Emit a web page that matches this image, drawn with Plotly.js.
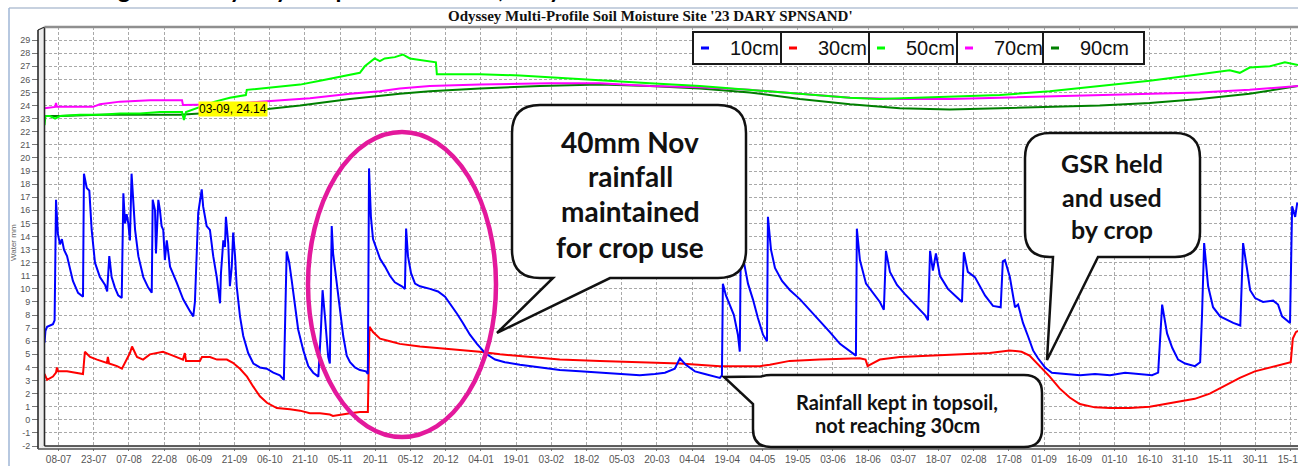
<!DOCTYPE html>
<html>
<head>
<meta charset="utf-8">
<script src="https://cdn.plot.ly/plotly-3.0.1.min.js"></script>
<style>
  html, body { margin: 0; padding: 0; background: #ffffff; }
  #chart { width: 1298px; height: 466px; }
</style>
</head>
<body>
<div id="chart"></div>
<script>
// Odyssey multi-profile soil moisture probe, site '23 DARY SPNSAND'.
// Each series: [day offset from 08-07-2022, soil water (mm)]

const probe10cm = [
  [-6.0,5.9],[-5.6,6.8],[-4.9,7.1],[-3.7,7.2],[-2.4,7.3],[-1.7,7.6],[-1.3,12],[-1.1,16.8],[-0.3,14.2],[0.6,13.4],
  [1.4,13.8],[2.3,13.0],[3.6,12.5],[4.9,11.5],[6.1,10.6],[8.3,9.7],[10.4,9.4],[10.8,18.8],[12.0,17.7],[13.1,17.5],
  [14.1,14.5],[15.5,12.0],[17.6,10.9],[19.8,10.3],[20.7,9.8],[21.6,12.5],[22.6,10.9],[24.0,10.1],[25.4,9.5],[26.9,9.3],
  [27.6,17.3],[28.3,15.0],[29.0,15.7],[29.7,15.0],[30.4,13.7],[31.1,18.8],[31.8,16.4],[32.6,14.5],[34.0,12.5],[36.1,10.9],
  [38.2,10.1],[39.7,9.7],[40.1,16.8],[41.1,16.0],[41.5,12.7],[42.5,16.8],[43.2,16.0],[43.9,14.8],[44.6,14.5],[45.3,12.2],
  [46.1,13.7],[47.5,11.7],[50.3,10.5],[53.1,9.2],[56.0,8.3],[57.4,7.9],[58.1,9.0],[58.8,12.0],[59.5,15.8],[61.0,17.6],
  [61.6,16.3],[63.1,14.8],[64.5,14.5],[65.9,12.5],[67.4,10.9],[68.8,8.9],[69.2,11.2],[70.2,13.7],[70.9,13.2],[71.3,15.5],
  [72.3,13.5],[73.0,10.2],[73.8,11.7],[74.4,14.3],[75.2,12.5],[75.9,10.2],[77.3,7.9],[78.7,6.4],[80.8,5.1],[83.0,4.3],
  [85.8,4.0],[88.7,3.9],[91.5,3.6],[94.3,3.4],[96.0,3.05],[97.2,12.85],[98.3,12.0],[99.3,10.7],[100.7,8.6],[102.1,6.9],
  [104.3,5.3],[106.4,4.1],[108.5,3.6],[110.7,3.3],[111.8,6.9],[112.5,9.9],[113.5,7.9],[114.2,6.4],[114.9,4.8],[115.6,4.3],
  [116.4,14.8],[117.0,12.7],[118.5,10.5],[119.9,8.9],[121.3,6.4],[122.8,4.9],[124.2,4.4],[126.3,4.0],[128.4,3.8],[131.0,3.7],
  [131.8,3.5],[132.3,19.2],[133.1,15.5],[134.0,13.8],[135.3,13.2],[137.0,12.3],[139.1,11.7],[141.2,11.0],[143.3,10.5],[146.3,10.2],
  [147.6,10.0],[148.1,14.6],[148.9,12.5],[150.2,11.2],[151.9,10.4],[154.0,10.2],[158.3,10.0],[161.7,9.8],[164.7,9.4],[166.8,8.9],
  [169.8,8.1],[172.3,7.4],[175.3,6.5],[178.3,5.8],[181.7,5.1],[186.0,4.6],[190.2,4.4],[196.6,4.2],[205.1,4.0],[213.6,3.8],
  [222.1,3.7],[230.7,3.6],[239.2,3.5],[247.7,3.4],[254.1,3.5],[258.4,3.6],[262.6,3.9],[264.8,4.7],[267.3,4.2],[271.2,3.7],
  [275.4,3.5],[279.7,3.3],[281.8,3.2],[282.7,3.4],[283.1,10.4],[284.4,9.5],[286.1,8.8],[287.8,8.0],[289.5,6.5],[290.3,5.2],
  [290.8,14.5],[292.1,12.0],[293.8,10.4],[295.9,9.2],[298.0,7.8],[300.2,6.5],[301.9,6.0],[302.3,15.5],[303.6,13.0],[305.3,11.6],
  [308.3,10.6],[311.7,9.9],[316.0,9.2],[320.2,8.4],[324.5,7.5],[328.7,6.7],[333.0,5.8],[337.3,5.2],[339.8,4.9],[340.2,14.6],
  [341.5,12.2],[344.1,10.4],[347.5,9.6],[350.0,9.0],[351.7,8.4],[352.6,12.9],[354.3,11.3],[357.3,10.3],[360.7,9.6],[365.0,8.8],
  [369.2,8.0],[370.5,7.6],[371.4,12.9],[372.6,11.4],[373.9,12.7],[375.6,11.0],[379.0,10.0],[382.0,9.5],[385.0,9.0],[385.8,12.8],
  [387.5,11.3],[390.5,10.9],[394.8,9.5],[398.2,8.7],[401.5,8.6],[402.4,12.1],[403.3,12.2],[405.4,10.9],[407.6,8.6],[408.9,8.8],
  [411.0,7.4],[413.1,6.4],[415.3,5.3],[417.4,4.7],[420.4,4.0],[423.3,3.6],[428.9,3.5],[435.3,3.4],[441.7,3.5],[448.1,3.4],
  [454.5,3.6],[460.9,3.5],[466.0,3.4],[468.6,3.6],[469.4,6.5],[470.3,8.8],[472.4,6.6],[474.6,5.5],[477.1,4.6],[480.1,4.3],
  [484.3,4.1],[486.5,4.4],[487.3,8.0],[488.2,13.5],[489.9,10.2],[492.0,8.6],[495.0,7.9],[498.0,7.6],[500.6,7.4],[503.6,7.2],
  [504.8,13.5],[506.5,11.5],[507.8,9.9],[509.9,9.3],[513.3,9.0],[517.6,9.1],[519.7,8.8],[521.4,7.9],[523.6,7.6],[524.8,7.4],
  [525.7,16.3],[527.0,15.5],[527.9,16.6]
];

const probe30cm = [
  [-6.0,3.5],[-4.9,3.05],[-2.4,3.3],[-1.1,3.6],[-0.7,4.0],[-0.3,3.7],[3.6,3.7],[10.4,3.5],[11.2,5.2],[13.4,4.8],
  [16.4,4.6],[20.6,4.35],[21.0,4.8],[21.5,4.3],[24.9,4.1],[27.0,3.9],[30.4,5.1],[31.3,5.6],[33.4,4.8],[36.0,4.6],
  [38.9,5.0],[41.9,5.1],[44.5,5.2],[48.7,4.9],[53.0,4.6],[53.8,5.1],[54.3,4.5],[60.2,4.5],[61.1,4.8],[64.5,4.8],
  [67.5,4.6],[71.7,4.6],[74.3,4.35],[77.3,3.9],[80.3,3.3],[82.9,2.55],[85.8,1.8],[88.8,1.3],[93.0,0.9],[98.6,0.8],
  [102.9,0.7],[107.1,0.5],[111.4,0.5],[115.6,0.4],[116.9,0.3],[124.2,0.5],[128.4,0.6],[131.8,0.6],[132.5,7.1],[134.0,6.7],
  [137.0,6.2],[141.2,6.0],[145.4,5.8],[154.0,5.6],[166.8,5.4],[179.5,5.2],[188.1,5.0],[200.8,4.8],[213.6,4.6],[230.7,4.5],
  [247.7,4.4],[264.8,4.3],[281.8,4.1],[298.9,4.1],[303.1,4.2],[311.6,4.5],[324.4,4.6],[341.4,4.7],[343.9,4.6],[344.8,4.1],
  [345.7,4.2],[350.0,4.6],[358.5,4.8],[371.3,4.9],[384.1,5.0],[396.8,5.1],[405.3,5.3],[410.4,5.2],[413.8,4.9],[418.1,4.1],
  [422.4,3.3],[426.6,2.4],[430.9,1.7],[435.2,1.2],[441.6,0.95],[448.0,0.9],[456.5,0.9],[465.0,1.0],[471.4,1.2],[477.8,1.4],
  [484.2,1.6],[490.6,2.0],[497.0,2.6],[503.4,3.2],[509.8,3.7],[516.2,4.0],[522.6,4.3],[525.1,4.4],[526.0,6.2],[527.3,6.7],
  [528.2,6.8]
];

const probe50cm = [
  [-6.0,22.5],[-5.6,23.2],[-3.7,23.2],[-1.5,23.0],[0.6,23.2],[9.1,23.3],[17.6,23.3],[26.2,23.4],[34.7,23.4],[43.2,23.5],
  [52.6,23.5],[53.4,22.9],[54.3,23.5],[60.2,23.9],[66.6,24.3],[73.0,24.6],[79.8,24.8],[80.2,25.2],[85.8,25.3],[94.3,25.5],
  [102.9,25.6],[111.4,25.9],[119.9,26.2],[126.3,26.4],[128.4,26.5],[130.5,27.0],[132.6,27.3],[134.7,27.6],[136.9,27.4],[139.0,27.6],
  [143.3,27.7],[146.7,27.9],[149.7,27.6],[154.0,27.5],[158.2,27.4],[160.8,27.3],[161.2,26.4],[166.8,26.4],[179.5,26.4],[196.6,26.3],
  [213.6,26.1],[230.7,25.9],[252.0,25.7],[273.3,25.5],[294.6,25.2],[315.9,24.9],[337.3,24.6],[349.8,24.5],[367.0,24.6],[384.1,24.7],
  [401.1,24.8],[422.4,25.1],[443.7,25.5],[465.0,25.9],[486.3,26.4],[499.1,26.7],[503.4,26.5],[507.6,26.9],[516.2,27.0],[522.6,27.3],
  [528.2,27.1]
];

const probe70cm = [
  [-6.0,23.8],[-1.5,23.9],[-1.1,24.2],[-0.7,23.9],[9.1,23.9],[14.7,23.9],[17.6,24.1],[26.2,24.3],[39.0,24.4],[52.6,24.4],
  [53.0,24.05],[73.0,24.1],[85.8,24.3],[107.1,24.55],[124.2,24.9],[136.9,25.1],[145.4,25.3],[158.2,25.5],[179.5,25.6],[209.4,25.7],
  [230.7,25.7],[252.0,25.5],[273.3,25.4],[294.6,25.2],[315.9,24.9],[337.3,24.6],[358.5,24.5],[379.8,24.5],[401.1,24.6],[422.4,24.7],
  [443.7,24.8],[465.0,24.9],[486.3,25.0],[507.6,25.2],[520.4,25.4],[528.2,25.5]
];

const probe90cm = [
  [-6.0,23.2],[0.6,23.2],[17.6,23.3],[39.0,23.3],[51.7,23.3],[60.2,23.4],[81.6,23.6],[102.9,24.0],[124.2,24.5],[145.4,24.9],
  [158.2,25.1],[179.5,25.3],[205.1,25.5],[230.7,25.6],[252.0,25.5],[273.3,25.3],[294.6,25.0],[315.9,24.5],[337.3,24.1],[358.5,23.8],
  [379.8,23.7],[401.1,23.8],[422.4,23.9],[443.7,24.0],[465.0,24.2],[486.3,24.5],[507.6,24.9],[520.4,25.3],[528.2,25.5]
];

const seriesNames  = ['10cm', '30cm', '50cm', '70cm', '90cm'];
const seriesColors = ['#0000ff', '#ff0000', '#00ff00', '#ff00ff', '#008000'];
const seriesData   = [probe10cm, probe30cm, probe50cm, probe70cm, probe90cm];

const yTickValues = [-2,-1,0,1,2,3,4,5,6,7,8,9,10,11,12,13,14,15,16,17,18,19,20,21,22,23,24,25,26,27,28,29];

// ---- helpers -------------------------------------------------------------
const START_MS = Date.UTC(2022, 6, 8);
const DAY_MS = 86400000;
const dayToDate = d => new Date(START_MS + d * DAY_MS).toISOString().slice(0, 19).replace('T', ' ');

// plot-area frame in page pixels, used to place decorations in paper units
const FRAME = { l: 44, r: 1298, t: 27, b: 446 };
const px = x => (x - FRAME.l) / (FRAME.r - FRAME.l);
const py = y => (FRAME.b - y) / (FRAME.b - FRAME.t);

function pathOf(cmds) {
  return cmds.map(c => {
    if (c[0] === 'Z') return 'Z';
    const pts = [];
    for (let i = 1; i < c.length; i += 2) pts.push(px(c[i]).toFixed(5) + ',' + py(c[i + 1]).toFixed(5));
    return c[0] + ' ' + pts.join(' ');
  }).join(' ');
}

function bubbleTailDown(L, T, R, B, r, tailA, tailB, tipX, tipY) {
  return pathOf([
    ['M', L + r, T], ['L', R - r, T], ['Q', R, T, R, T + r], ['L', R, B - r], ['Q', R, B, R - r, B],
    ['L', tailB, B], ['L', tipX, tipY], ['L', tailA, B],
    ['L', L + r, B], ['Q', L, B, L, B - r], ['L', L, T + r], ['Q', L, T, L + r, T], ['Z']
  ]);
}

function bubbleTailLeft(L, T, R, B, r, tailLow, tipX, tipY) {
  return pathOf([
    ['M', L + r, T], ['L', R - r, T], ['Q', R, T, R, T + r], ['L', R, B - r], ['Q', R, B, R - r, B],
    ['L', L + r, B], ['Q', L, B, L, B - r], ['L', L, tailLow], ['L', tipX, tipY],
    ['L', L + r * 0.45, T + 1.5], ['Q', L + r * 0.7, T, L + r, T], ['Z']
  ]);
}

const lineShape = (x0, y0, x1, y1, color, width) => ({
  type: 'line', xref: 'paper', yref: 'paper', layer: 'above',
  x0: px(x0), y0: py(y0), x1: px(x1), y1: py(y1),
  line: { color: color, width: width }
});

const label = (x, y, text, font, extra) => Object.assign({
  xref: 'paper', yref: 'paper', x: px(x), y: py(y), text: text, showarrow: false,
  xanchor: 'center', yanchor: 'middle', font: font
}, extra || {});

// ---- traces --------------------------------------------------------------
const drawOrder = [4, 3, 2, 1, 0];
const traces = drawOrder.map(i => ({
  type: 'scatter', mode: 'lines', name: seriesNames[i],
  x: seriesData[i].map(p => dayToDate(p[0])),
  y: seriesData[i].map(p => p[1]),
  line: { color: seriesColors[i], width: 2 },
  hoverinfo: 'skip'
}));

// ---- decorations ---------------------------------------------------------
const shapes = [];

// outer chart frame
shapes.push(lineShape(9, 8, 1298, 8, '#b4c2d4', 1.5));
shapes.push(lineShape(9, 8, 9, 466, '#9fb6d6', 1.5));

// 3-D walls of the plot area
shapes.push({ type: 'path', xref: 'paper', yref: 'paper', layer: 'above',
  path: pathOf([['M', 38, 30], ['L', 44.5, 27], ['L', 44.5, 446], ['L', 38, 449], ['Z']]),
  fillcolor: '#ececec', line: { color: 'rgba(0,0,0,0)', width: 0 } });
shapes.push({ type: 'path', xref: 'paper', yref: 'paper', layer: 'above',
  path: pathOf([['M', 44.5, 446], ['L', 1298, 446], ['L', 1298, 449], ['L', 38, 449], ['Z']]),
  fillcolor: '#ececec', line: { color: 'rgba(0,0,0,0)', width: 0 } });
shapes.push(lineShape(38, 30, 38, 449, '#2a2a2a', 1.6));
shapes.push(lineShape(44.5, 27, 44.5, 446, '#2a2a2a', 1.6));
shapes.push(lineShape(38, 30, 44.5, 27, '#2a2a2a', 1.2));
shapes.push(lineShape(44.5, 446, 1298, 446, '#2a2a2a', 1.4));
shapes.push(lineShape(38, 449, 1298, 449, '#555555', 1.4));
shapes.push(lineShape(44.5, 27, 1298, 27, '#8f8f8f', 2.5));

// legend box
const legendCells = [693, 781, 869, 957, 1043];
const legendRight = 1144, legendTop = 32, legendBottom = 64, legendMid = 48;
shapes.push({ type: 'rect', xref: 'paper', yref: 'paper', layer: 'above',
  x0: px(legendCells[0]), x1: px(legendRight), y0: py(legendBottom), y1: py(legendTop),
  fillcolor: '#ffffff', line: { color: '#1a1a1a', width: 2 } });
legendCells.slice(1).forEach(cx => shapes.push(lineShape(cx, legendTop, cx, legendBottom, '#1a1a1a', 2)));
legendCells.forEach((cx, i) => shapes.push(lineShape(cx + 8, legendMid, cx + 16, legendMid, seriesColors[i], 3)));

// highlight ring around the November event
shapes.push({ type: 'circle', xref: 'paper', yref: 'paper', layer: 'above',
  x0: px(308), x1: px(496), y0: py(437), y1: py(132),
  line: { color: '#e3199c', width: 4.5 }, fillcolor: 'rgba(0,0,0,0)' });

// call-out bubbles
const bubbleStyle = { fillcolor: '#ffffff', line: { color: '#111111', width: 2.5 } };
shapes.push(Object.assign({ type: 'path', xref: 'paper', yref: 'paper', layer: 'above',
  path: bubbleTailDown(512, 105, 746, 278, 28, 553, 610, 497, 333) }, bubbleStyle));
shapes.push(Object.assign({ type: 'path', xref: 'paper', yref: 'paper', layer: 'above',
  path: bubbleTailLeft(753, 375, 1042, 447, 18, 404, 724, 377) }, bubbleStyle));
shapes.push(Object.assign({ type: 'path', xref: 'paper', yref: 'paper', layer: 'above',
  path: bubbleTailDown(1025, 133, 1200, 257, 25, 1053, 1098, 1047, 360) }, bubbleStyle));

// ---- text ----------------------------------------------------------------
const calloutFont = size => ({ family: 'Lato, "Open Sans", sans-serif', size: size, color: '#111111' });
const annotations = [
  label(330, -11, '<b>Figure 3. Odyssey soil probe moisture, Dary</b>',
        { family: 'Lato, sans-serif', size: 24, color: '#000000' }, { xanchor: 'center' }),
  label(650, 16, "<b>Odyssey Multi-Profile Soil Moisture Site '23 DARY SPNSAND'</b>",
        { family: '"Liberation Serif", serif', size: 15, color: '#111111' }),
  label(13, 243, 'Water mm', { family: '"Liberation Sans", sans-serif', size: 8, color: '#666666' }, { textangle: -90 }),
  label(670, 469, 'Time/Date', { family: '"Liberation Sans", sans-serif', size: 8, color: '#666666' }),
  label(232.5, 109, '03-09, 24.14', { family: '"Liberation Sans", sans-serif', size: 12, color: '#000000' },
        { bgcolor: '#ffff00', borderpad: 0 }),

  label(630, 142, '<b>40mm Nov</b>', calloutFont(28)),
  label(630, 176, '<b>rainfall</b>', calloutFont(28)),
  label(630, 211, '<b>maintained</b>', calloutFont(28)),
  label(630, 247, '<b>for crop use</b>', calloutFont(28)),

  label(897, 402, '<b>Rainfall kept in topsoil,</b>', calloutFont(20)),
  label(897, 425, '<b>not reaching 30cm</b>', calloutFont(20)),

  label(1112, 163, '<b>GSR held</b>', calloutFont(25)),
  label(1112, 197, '<b>and used</b>', calloutFont(25)),
  label(1112, 229, '<b>by crop</b>', calloutFont(25))
];
legendCells.forEach((cx, i) => annotations.push(
  label(cx + 35, legendMid, seriesNames[i], { family: '"Liberation Sans", Arial, sans-serif', size: 20, color: '#111111' },
        { xanchor: 'left' })));

// ---- layout --------------------------------------------------------------
const layout = {
  width: 1298, height: 466, autosize: false,
  margin: { l: FRAME.l, r: 1298 - FRAME.r, t: FRAME.t, b: 466 - FRAME.b, pad: 0 },
  paper_bgcolor: '#ffffff', plot_bgcolor: '#ffffff',
  showlegend: false,
  font: { family: '"Liberation Sans", Arial, sans-serif', color: '#555555' },
  xaxis: {
    type: 'date',
    range: [dayToDate(-6.22), dayToDate(528.2)],
    tick0: dayToDate(0), dtick: 15 * DAY_MS, tickformat: '%d-%m',
    ticks: 'outside', ticklen: 4, tickcolor: '#777777', tickwidth: 1,
    tickfont: { size: 10, color: '#555555' },
    ticklabeloverflow: 'allow',
    showgrid: true, gridcolor: '#a9a9a9', gridwidth: 1, griddash: '3px,2px',
    zeroline: false, showline: false, fixedrange: true
  },
  yaxis: {
    range: [-2, 30],
    tickvals: yTickValues, ticktext: yTickValues.map(String),
    ticks: 'outside', ticklen: 11, tickcolor: '#777777', tickwidth: 1,
    tickfont: { size: 9, color: '#555555' },
    showgrid: true, gridcolor: '#a9a9a9', gridwidth: 1, griddash: '3px,2px',
    zeroline: false, showline: false, fixedrange: true
  },
  shapes: shapes,
  annotations: annotations
};

Plotly.newPlot('chart', traces, layout, { staticPlot: true, displayModeBar: false });
</script>
</body>
</html>
